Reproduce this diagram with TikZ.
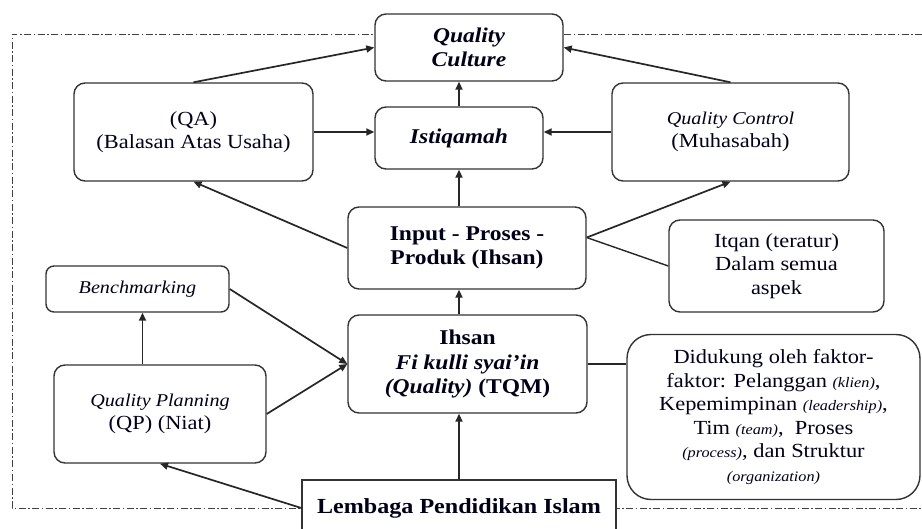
\documentclass[tikz,border=0pt]{standalone}
\usepackage{fontspec}
\setmainfont{Liberation Serif}[FakeStretch=1.12]
\usetikzlibrary{arrows.meta,calc}
\newcommand{\smit}[1]{{\fontsize{14.5}{23}\selectfont\itshape #1}}
\newcommand{\itq}[1]{{\fontsize{18}{23}\selectfont\itshape #1}}
\tikzset{
  box/.style={draw=black!80, line width=1.4pt, fill=white, rounded corners=11pt, align=center, inner sep=0pt, text=black!90!blue, font=\fontsize{20}{23.5}\selectfont},
  bbox/.style={box, font=\fontsize{21}{24.5}\selectfont\bfseries},
  arr/.style={line width=1.7pt, draw=black!85, -{Triangle[length=8pt,width=7pt]}},
  lnk/.style={line width=1.4pt, draw=black!85},
  frame/.style={line width=0.9pt, draw=black!75, dash pattern=on 7pt off 2.5pt on 1.5pt off 2.5pt}
}
\begin{document}
\begin{tikzpicture}[x=1pt,y=-1pt]
\useasboundingbox (0,0) rectangle (922,529);
\clip (0,0) rectangle (922,529);
% frame
\coordinate (ftr) at (922,34);
\coordinate (ftl) at (12,34);
\coordinate (fbl) at (12,508);
\coordinate (fbr) at (922,508);
\draw[frame] (ftr) -- (ftl) -- (fbl) -- (fbr);
% nodes
\node[bbox, minimum width=188pt, minimum height=67pt] (qc) at (469,47.5) {\itshape Quality\\\itshape Culture};
\node[bbox, minimum width=168pt, minimum height=62pt] (ist) at (459,138) {\itshape Istiqamah};
\node[box, minimum width=239pt, minimum height=98pt] (qa) at (193.5,132) {(QA)\\(Balasan Atas Usaha)};
\node[box, minimum width=237pt, minimum height=98pt] (qctrl) at (730.5,132) {\itq{Quality Control}\\(Muhasabah)};
\node[bbox, minimum width=238pt, minimum height=82pt] (inp) at (467,248) {Input - Proses -\\Produk (Ihsan)};
\node[box, minimum width=215pt, minimum height=92pt] (itq) at (776.5,266) {Itqan (teratur)\\Dalam semua\\aspek};
\node[box, rounded corners=8pt, minimum width=183pt, minimum height=46pt] (bench) at (137.5,289) {\itq{Benchmarking}};
\node[box, minimum width=212pt, minimum height=98pt] (qp) at (160,414) {\itq{Quality Planning}\\(QP) (Niat)};
\node[bbox, minimum width=239pt, minimum height=98pt] (tqm) at (467.5,364) {Ihsan\\\itshape Fi kulli syai'in\\{\itshape (Quality)} (TQM)};
\node[box, rounded corners=24pt, minimum width=293pt, minimum height=165pt] (dk) at (773.5,417) {Didukung oleh faktor-\\faktor: Pelanggan \smit{(klien)},\\Kepemimpinan \smit{(leadership)},\\Tim \smit{(team)},~ Proses\\\smit{(process)}, dan Struktur\\\smit{(organization)}};
\node[bbox, rounded corners=0pt, minimum width=314pt, minimum height=56pt, font=\fontsize{21.5}{24}\selectfont\bfseries] (lem) at (459,508) {Lembaga Pendidikan Islam};
% connectors
\draw[arr] (qa.north) -- (qc.west);
\draw[arr] (qa.east) -- (qa.east -| ist.west);
\draw[arr] (qctrl.west) -- (qctrl.west -| ist.east);
\draw[arr] (qctrl.north) -- (qc.east);
\draw[arr] (ist.north) -- (ist.north |- qc.south);
\draw[arr] (ist.south |- inp.north) -- (ist.south);
\draw[arr] (inp.west) -- (qa.south);
\draw[arr] (inp.5) -- (qctrl.south);
\draw[lnk] (inp.5) -- (itq.west);
\draw[arr] (lem.north |- tqm.north) -- (lem.north |- inp.south);
\draw[arr] (lem.north) -- (lem.north |- tqm.south);
\draw[arr] (bench.east) -- (tqm.west);
\draw[arr] (qp.east) -- (tqm.west);
\draw[arr] ($(bench.south |- qp.north)+(5,0)$) -- ($(bench.south)+(5,0)$);
\draw[arr] (lem.west) -- (qp.south);
\draw[lnk] (tqm.east) -- (tqm.east -| dk.west);
\end{tikzpicture}
\end{document}
